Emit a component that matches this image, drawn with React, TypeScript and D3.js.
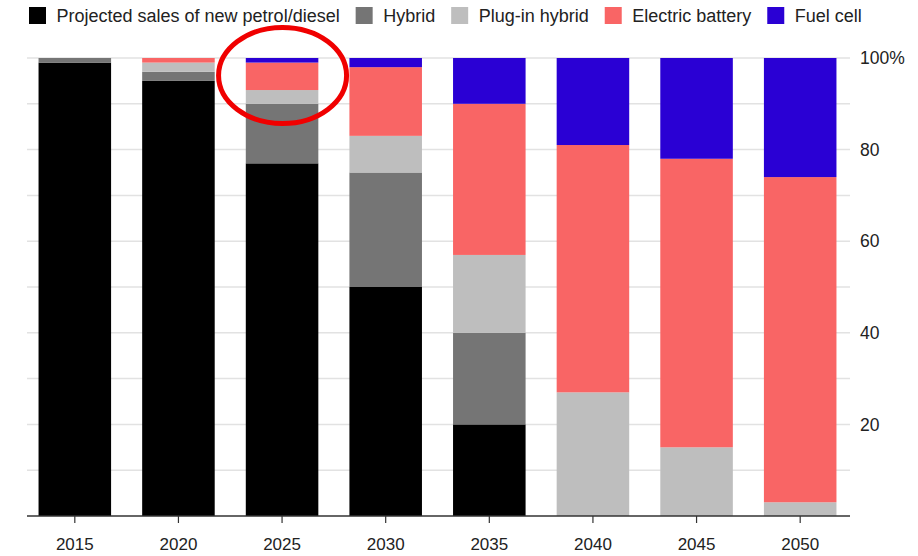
import React from "react";
import * as d3 from "d3";

// Share of new car sales by powertrain, percent
const years = ["2015", "2020", "2025", "2030", "2035", "2040", "2045", "2050"];
const petrolDiesel = [99, 95, 77, 50, 20, 0, 0, 0];
const hybrid = [1, 2, 13, 25, 20, 0, 0, 0];
const plugInHybrid = [0, 2, 3, 8, 17, 27, 15, 3];
const electricBattery = [0, 1, 6, 15, 33, 54, 63, 71];
const fuelCell = [0, 0, 1, 2, 10, 19, 22, 26];

const seriesNames = [
  "Projected sales of new petrol/diesel",
  "Hybrid",
  "Plug-in hybrid",
  "Electric battery",
  "Fuel cell",
];
const seriesKeys = ["petrol", "hybrid", "plugin", "electric", "fuel"];
const seriesColors = ["#000000", "#757575", "#bebebe", "#f96565", "#2a00d4"];
const yTickValues = [20, 40, 60, 80, 100];
const gridValues = [10, 20, 30, 40, 50, 60, 70, 80, 90, 100];

const W = 918;
const H = 556;
const FONT = "'Liberation Sans', Arial, Helvetica, sans-serif";

const rows = years.map((y, i) => ({
  year: y,
  petrol: petrolDiesel[i],
  hybrid: hybrid[i],
  plugin: plugInHybrid[i],
  electric: electricBattery[i],
  fuel: fuelCell[i],
}));

function textWidth(s: string, size: number): number {
  const c = document.createElement("canvas").getContext("2d");
  if (!c) return s.length * size * 0.5;
  c.font = `${size}px ${FONT}`;
  return c.measureText(s).width;
}

export default function App() {
  const x = d3
    .scaleBand<string>()
    .domain(years)
    .range([23, 852])
    .paddingInner(0.3)
    .paddingOuter(0.15);
  const y = d3.scaleLinear().domain([0, 100]).range([516, 58]);

  const stacked = d3.stack<any>().keys(seriesKeys)(rows);

  // legend layout: square, gap, label, gap
  const legendSize = 18;
  let lx = 29;
  const legendItems = seriesNames.map((name, i) => {
    const item = { name, color: seriesColors[i], x: lx };
    lx += 17 + 10.5 + textWidth(name, legendSize) + 16;
    return item;
  });

  return (
    <svg
      width={W}
      height={H}
      style={{ position: "absolute", left: 0, top: 0, display: "block", background: "#fff" }}
      fontFamily={FONT}
    >
      {/* legend */}
      {legendItems.map((it) => (
        <g key={it.name} transform={`translate(${it.x},0)`}>
          <rect x={0} y={7} width={17} height={17} fill={it.color} />
          <text x={27.5} y={21.5} fontSize={legendSize} fill="#222">
            {it.name}
          </text>
        </g>
      ))}

      {/* gridlines */}
      {gridValues.map((v) => (
        <line
          key={v}
          x1={27}
          x2={850}
          y1={y(v)}
          y2={y(v)}
          stroke="#e2e2e2"
          strokeWidth={1.5}
        />
      ))}

      {/* stacked bars */}
      {stacked.map((layer, li) => (
        <g key={layer.key} fill={seriesColors[li]}>
          {layer.map((d, i) =>
            d[1] - d[0] > 0 ? (
              <rect
                key={i}
                x={x(d.data.year)}
                y={y(d[1])}
                width={x.bandwidth()}
                height={y(d[0]) - y(d[1])}
              />
            ) : null
          )}
        </g>
      ))}

      {/* y tick labels on the right */}
      {yTickValues.map((v) => (
        <text
          key={v}
          x={860}
          y={y(v)}
          dy="0.35em"
          fontSize={17.5}
          fill="#222"
        >
          {v === 100 ? "100%" : v}
        </text>
      ))}

      {/* x axis */}
      <line x1={27} x2={850} y1={516} y2={516} stroke="#333" strokeWidth={1.5} />
      {years.map((yr) => {
        const cx = (x(yr) as number) + x.bandwidth() / 2;
        return (
          <g key={yr}>
            <line x1={cx} x2={cx} y1={516} y2={523} stroke="#333" strokeWidth={1.2} />
            <text x={cx} y={550} textAnchor="middle" fontSize={17} fill="#222">
              {yr}
            </text>
          </g>
        );
      })}

      {/* highlight around 2025 */}
      <ellipse
        cx={(x("2025") as number) + x.bandwidth() / 2 + 0.5}
        cy={75.5}
        rx={64}
        ry={48}
        fill="none"
        stroke="#f00000"
        strokeWidth={5}
      />
    </svg>
  );
}
